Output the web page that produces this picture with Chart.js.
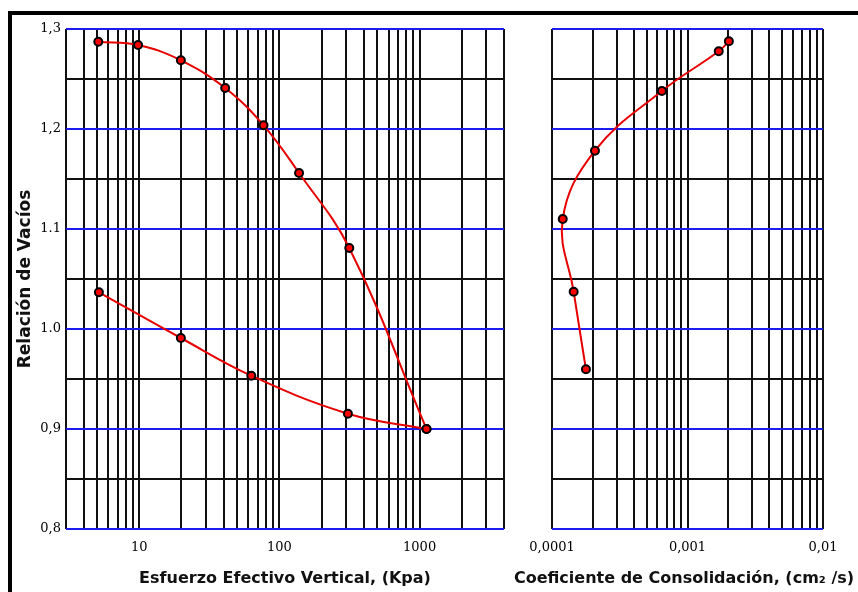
<!DOCTYPE html>
<html>
<head>
<meta charset="utf-8">
<script src="https://cdn.jsdelivr.net/npm/chart.js@4"></script>
<style>
  html, body { margin: 0; padding: 0; background: #fff; overflow: hidden; }
  body { width: 858px; height: 592px; position: relative; }
  .frame { position: absolute; left: 8px; top: 11px; width: 900px; height: 700px;
           border-top: 4px solid #000; border-left: 4px solid #000; }
  canvas { position: absolute; top: 0; }
  #leftChart { left: 0; }
  #rightChart { left: 510px; }
</style>
</head>
<body>
<div class="frame"></div>
<canvas id="leftChart" width="520" height="592"></canvas>
<canvas id="rightChart" width="348" height="592"></canvas>
<script>
"use strict";

// curva de compresibilidad (carga / descarga)
const loadStress = [5.1, 9.8, 19.8, 41, 77, 138, 315, 1120];
const loadVoid = [1.2873, 1.284, 1.2687, 1.241, 1.2037, 1.156, 1.081, 0.9];
const unloadStress = [1120, 308, 63, 19.8, 5.15];
const unloadVoid = [0.9, 0.9153, 0.9533, 0.991, 1.0367];

// coeficiente de consolidacion vs relacion de vacios
const cvValues = [0.000178, 0.0001445, 0.00012, 0.0002075, 0.000647, 0.0017, 0.00202];
const cvVoid = [0.9597, 1.0373, 1.11, 1.1783, 1.238, 1.2777, 1.2877];

// ticks
const voidTicks = [0.8, 0.85, 0.9, 0.95, 1.0, 1.05, 1.1, 1.15, 1.2, 1.25, 1.3];
const voidTickLabels = ["0,8", "", "0,9", "", "1.0", "", "1.1", "", "1,2", "", "1,3"];
const stressTicks = [3, 4, 5, 6, 7, 8, 9, 10, 20, 30, 40, 50, 60, 70, 80, 90,
    100, 200, 300, 400, 500, 600, 700, 800, 900, 1000, 2000, 3000, 4000];
const stressTickLabels = { 10: "10", 100: "100", 1000: "1000" };
const cvTicks = [0.0001, 0.0002, 0.0003, 0.0004, 0.0005, 0.0006, 0.0007, 0.0008, 0.0009,
    0.001, 0.002, 0.003, 0.004, 0.005, 0.006, 0.007, 0.008, 0.009, 0.01];
const cvTickLabels = ["0,0001", "", "", "", "", "", "", "", "",
    "0,001", "", "", "", "", "", "", "", "", "0,01"];

const black = "#111";
const blue = "#1c1cee";
const red = "#e80000";
const tickFont = { family: "'DejaVu Serif'", size: 13 };
const titleFont = { family: "'DejaVu Sans'", size: 16, weight: "bold" };

const toPoints = (xs, ys) => xs.map((x, i) => ({ x, y: ys[i] }));

const curveStyle = {
    showLine: true,
    borderColor: red,
    borderWidth: 2,
    tension: 0.4,
    pointRadius: 4,
    pointBorderWidth: 2,
    pointBorderColor: "#000",
    pointBackgroundColor: "#ff0000",
};

const voidAxis = (showLabels, width) => ({
    type: "linear",
    min: 0.8,
    max: 1.3,
    afterBuildTicks: (scale) => { scale.ticks = voidTicks.map((v) => ({ value: v })); },
    afterFit: (scale) => { scale.width = width; },
    border: { display: false },
    grid: {
        drawTicks: false,
        lineWidth: 2,
        color: (ctx) => (voidTickLabels[ctx.index] ? blue : black),
    },
    ticks: {
        display: showLabels,
        autoSkip: false,
        padding: 5,
        color: "#000",
        font: tickFont,
        callback: (v, i) => voidTickLabels[i],
    },
});

const commonOptions = {
    responsive: false,
    animation: false,
    events: [],
    plugins: { legend: { display: false }, tooltip: { enabled: false } },
};

new Chart(document.getElementById("leftChart"), {
    type: "scatter",
    data: {
        datasets: [
            { data: toPoints(loadStress, loadVoid), ...curveStyle },
            { data: toPoints(unloadStress, unloadVoid), ...curveStyle },
        ],
    },
    options: {
        ...commonOptions,
        layout: { padding: { top: 29, left: 0, right: 16, bottom: 0 } },
        scales: {
            x: {
                type: "logarithmic",
                min: 3,
                max: 4000,
                afterBuildTicks: (scale) => { scale.ticks = stressTicks.map((v) => ({ value: v })); },
                afterFit: (scale) => { scale.height = 63; },
                border: { display: false },
                grid: { drawTicks: false, lineWidth: 2, color: black },
                ticks: {
                    autoSkip: false,
                    maxRotation: 0,
                    padding: 11,
                    color: "#000",
                    font: tickFont,
                    callback: (v) => stressTickLabels[v] || "",
                },
                title: {
                    display: true,
                    text: "Esfuerzo Efectivo Vertical, (Kpa)",
                    color: "#111",
                    font: titleFont,
                    padding: { top: 4, bottom: 4 },
                },
            },
            y: {
                ...voidAxis(true, 66),
                title: {
                    display: true,
                    text: "Relación de Vacíos",
                    color: "#111",
                    font: { ...titleFont, size: 17 },
                    padding: { top: 15, bottom: 0 },
                },
            },
        },
    },
});

new Chart(document.getElementById("rightChart"), {
    type: "scatter",
    data: {
        datasets: [{ data: toPoints(cvValues, cvVoid), ...curveStyle }],
    },
    options: {
        ...commonOptions,
        layout: { padding: { top: 29, left: 0, right: 0, bottom: 0 } },
        plugins: {
            ...commonOptions.plugins,
            title: {
                display: true,
                position: "bottom",
                text: "Coeficiente de Consolidación, (cm₂ /s)",
                color: "#111",
                font: titleFont,
                padding: { top: 4, bottom: 4 },
            },
        },
        scales: {
            x: {
                type: "logarithmic",
                min: 0.0001,
                max: 0.01,
                afterBuildTicks: (scale) => { scale.ticks = cvTicks.map((v) => ({ value: v })); },
                afterFit: (scale) => { scale.height = 35.8; },
                border: { display: false },
                grid: { drawTicks: false, lineWidth: 2, color: black },
                ticks: {
                    autoSkip: false,
                    maxRotation: 0,
                    padding: 11,
                    color: "#000",
                    font: tickFont,
                    callback: (v, i) => cvTickLabels[i],
                },
            },
            y: voidAxis(false, 42),
            y2: {
                position: "right",
                min: 0,
                max: 1,
                afterFit: (scale) => { scale.width = 35; },
                border: { display: false },
                grid: { display: false },
                ticks: { display: false },
            },
        },
    },
});
</script>
</body>
</html>
